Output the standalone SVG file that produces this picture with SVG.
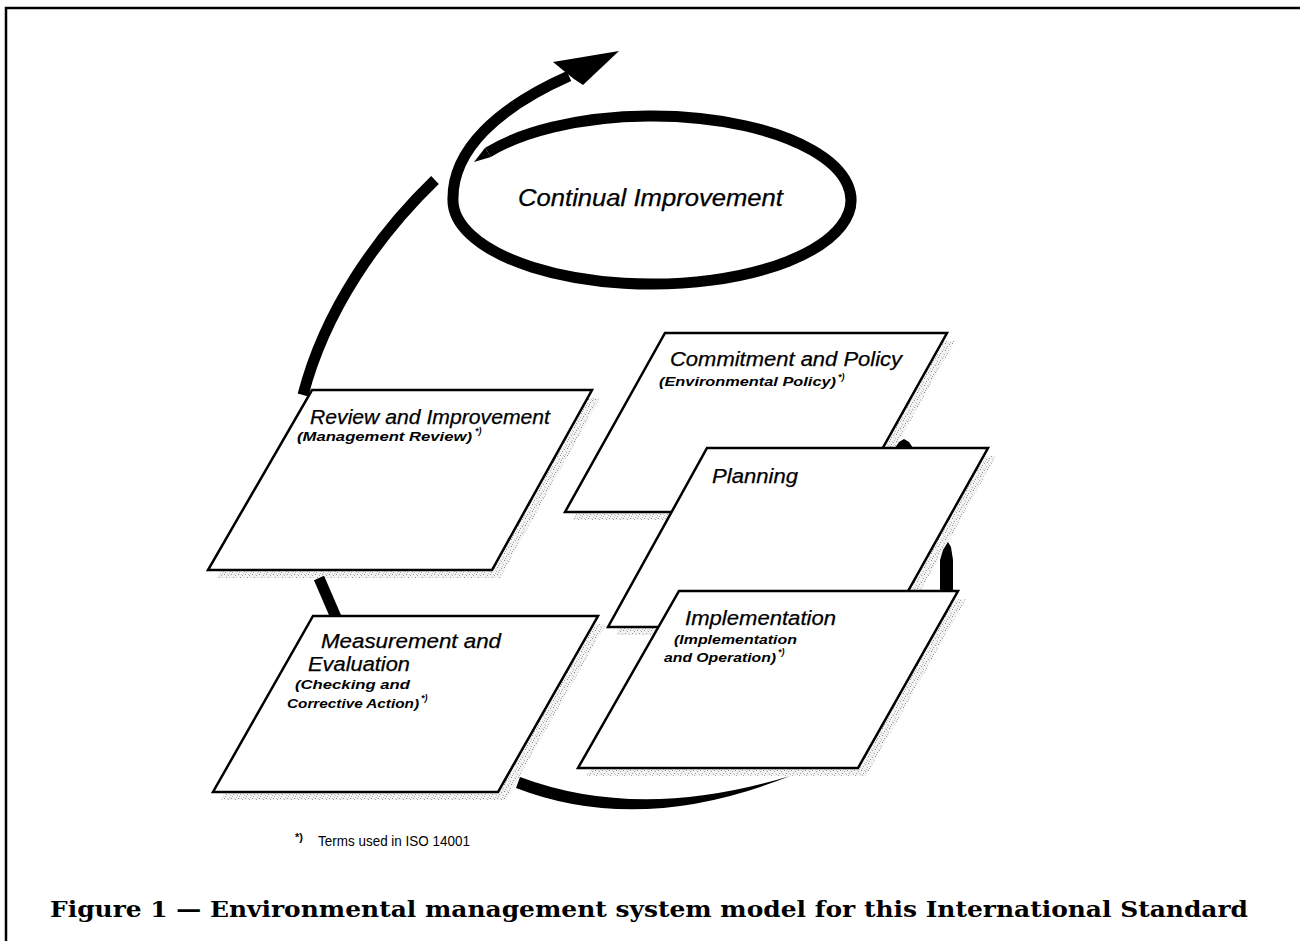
<svg xmlns="http://www.w3.org/2000/svg" width="1300" height="941" viewBox="0 0 1300 941">
<defs>
<pattern id="stip" width="7" height="7" patternUnits="userSpaceOnUse">
<rect width="7" height="7" fill="#f3f3f3"/>
<rect x="0" y="0" width="1" height="1" fill="#8a8a8a"/>
<rect x="4" y="1" width="1" height="1" fill="#a0a0a0"/>
<rect x="2" y="3" width="1" height="1" fill="#999"/>
<rect x="6" y="4" width="1" height="1" fill="#b5b5b5"/>
<rect x="1" y="5" width="1" height="1" fill="#aaa"/>
<rect x="5" y="6" width="1" height="1" fill="#c0c0c0"/>
<rect x="3" y="0" width="1" height="1" fill="#cfcfcf"/>
<rect x="5" y="3" width="1" height="1" fill="#d5d5d5"/>
</pattern>
</defs>
<style>
.frame{stroke:#000;stroke-width:2.5;fill:none}
.box{fill:#fff;stroke:#000;stroke-width:2.5;stroke-linejoin:miter}
.shadow{fill:url(#stip);stroke:none}
.arc{fill:none;stroke:#000;stroke-width:11}
.fill{fill:#000;stroke:none}
.t{font-family:"Liberation Sans",Arial,sans-serif;font-style:italic;font-size:19.5px;fill:#000;stroke:#000;stroke-width:0.25}
.ci{font-size:23px}
.s{font-family:"Liberation Sans",Arial,sans-serif;font-style:italic;font-weight:bold;font-size:13px;fill:#000}
.sup{font-family:"Liberation Sans",Arial,sans-serif;font-style:italic;font-weight:bold;font-size:9px;fill:#000}
.note{font-family:"Liberation Sans",Arial,sans-serif;font-size:14px;fill:#000}
.cap{font-family:"DejaVu Serif","Liberation Serif",serif;font-weight:bold;font-size:23px;fill:#000}
</style>
<rect width="1300" height="941" fill="#fff"/>
<path class="frame" d="M6,941 V8 H1300"/>

<g id="shadows">
<polygon class="shadow" points="320,398 600,398 500,578 216,578"/>
<polygon class="shadow" points="673,341 955,341 855,520 573,520"/>
<polygon class="shadow" points="715,456 996,456 896,635 616,635"/>
<polygon class="shadow" points="321,624 606,624 506,800 221,800"/>
<polygon class="shadow" points="687,599 966,599 866,776 586,776"/>
</g>

<g id="connectors">
<path class="arc" d="M488,152.4 A199 84 0 1 1 453,198 C453,150 497,108 569,76"/>
<polygon class="fill" points="474,162 485.1,147.7 490.9,157.1"/>
<polygon class="fill" points="619,51 553,62 564,71 574,79 583,85"/>
<path class="arc" d="M435,180 C378,235 325,310 303,395" stroke-width="12"/>
<path class="arc" d="M319,578 L338,622" stroke-width="12"/>
<path class="fill" d="M516,788 Q640,836 790,776 Q640,822 520,777 Z"/>
<polygon class="fill" points="940,590 940,560 943,550 948,542 951,547 953,560 953,590"/>
<polygon class="fill" points="895,448 899,442 904,439 909,442 913,448"/>
</g>

<g id="continual-improvement">
<text class="t ci" x="518" y="206" textLength="265" lengthAdjust="spacingAndGlyphs">Continual Improvement</text>
</g>

<g id="review">
<polygon class="box" points="312,390 592,390 492,570 208,570"/>
<text class="t" x="310" y="424" textLength="240" lengthAdjust="spacingAndGlyphs">Review and Improvement</text>
<text class="s" x="297" y="441" textLength="175" lengthAdjust="spacingAndGlyphs">(Management Review)</text>
<text class="sup" x="475" y="434">*)</text>
</g>

<g id="measurement">
<polygon class="box" points="313,616 598,616 498,792 213,792"/>
<text class="t" x="321" y="648" textLength="180" lengthAdjust="spacingAndGlyphs">Measurement and</text>
<text class="t" x="308" y="671" textLength="102" lengthAdjust="spacingAndGlyphs">Evaluation</text>
<text class="s" x="295" y="689" textLength="115" lengthAdjust="spacingAndGlyphs">(Checking and</text>
<text class="s" x="287" y="708" textLength="132" lengthAdjust="spacingAndGlyphs">Corrective Action)</text>
<text class="sup" x="421" y="701">*)</text>
</g>

<g id="commitment">
<polygon class="box" points="665,333 947,333 847,512 565,512"/>
<text class="t" x="670" y="366" textLength="232" lengthAdjust="spacingAndGlyphs">Commitment and Policy</text>
<text class="s" x="659" y="386" textLength="177" lengthAdjust="spacingAndGlyphs">(Environmental Policy)</text>
<text class="sup" x="838" y="380">*)</text>
</g>

<g id="planning">
<polygon class="box" points="707,448 988,448 888,627 608,627"/>
<text class="t" x="712" y="483" textLength="86" lengthAdjust="spacingAndGlyphs">Planning</text>
</g>

<g id="implementation">
<polygon class="box" points="679,591 958,591 858,768 578,768"/>
<text class="t" x="685" y="625" textLength="151" lengthAdjust="spacingAndGlyphs">Implementation</text>
<text class="s" x="674" y="644" textLength="123" lengthAdjust="spacingAndGlyphs">(Implementation</text>
<text class="s" x="664" y="662" textLength="112" lengthAdjust="spacingAndGlyphs">and Operation)</text>
<text class="sup" x="778" y="655">*)</text>
</g>

<g id="footnote">
<text class="sup" x="295" y="841" style="font-style:normal;font-size:11px">*)</text>
<text class="note" x="318" y="846" textLength="152" lengthAdjust="spacingAndGlyphs">Terms used in ISO 14001</text>
</g>

<g id="caption">
<text class="cap" x="50" y="917" textLength="1198" lengthAdjust="spacingAndGlyphs">Figure 1 — Environmental management system model for this International Standard</text>
</g>
</svg>
